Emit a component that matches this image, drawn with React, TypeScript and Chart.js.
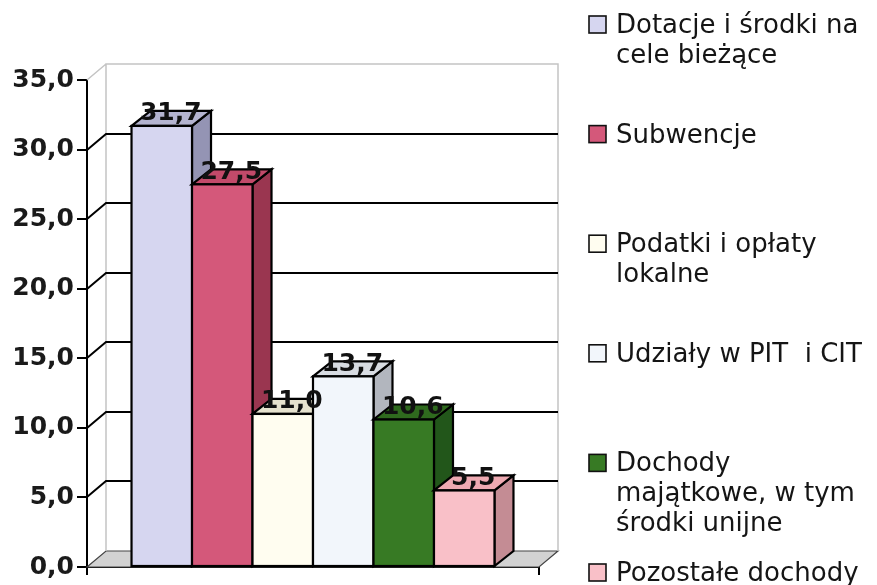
import React, { useEffect, useRef } from 'react';
import { Chart, registerables } from 'chart.js';

Chart.register(...registerables);

// ---- data ----
const categories: string[] = [''];
const seriesNames: string[] = [
  'Dotacje i środki na cele bieżące',
  'Subwencje',
  'Podatki i opłaty lokalne',
  'Udziały w PIT  i CIT',
  'Dochody majątkowe, w tym środki unijne',
  'Pozostałe dochody',
];
const legendLines: string[][] = [
  ['Dotacje i środki na', 'cele bieżące'],
  ['Subwencje'],
  ['Podatki i opłaty', 'lokalne'],
  ['Udziały w PIT  i CIT'],
  ['Dochody', 'majątkowe, w tym', 'środki unijne'],
  ['Pozostałe dochody'],
];
const seriesValues: number[] = [31.7, 27.5, 11.0, 13.7, 10.6, 5.5];
const yMin = 0;
const yMax = 35;
const yStep = 5;

// ---- styles ----
const frontColors = ['#d6d6f0', '#d4587a', '#fffdf0', '#f2f6fb', '#377a24', '#f9c0c8'];
const topColors = ['#b4b4d0', '#c24a6a', '#e6e2ce', '#d8dce2', '#2f6a1e', '#eeaab2'];
const sideColors = ['#9494b4', '#9a3650', '#c8c4b0', '#b2b6be', '#22561a', '#c48c94'];

const fmt = (v: number) => Number(v).toFixed(1).replace('.', ',');

const WDX = 19;
const WDY = -16;
const BDX = 19;
const BDY = -15;

const threeDPlugin = {
  id: 'threeD',
  beforeDatasetsDraw(chart: any) {
    const { ctx, chartArea: a } = chart;
    const y = chart.scales.y;
    const y0 = y.getPixelForValue(yMin);
    const yT = y.getPixelForValue(yMax);
    ctx.save();
    // floor
    ctx.beginPath();
    ctx.moveTo(a.left, y0);
    ctx.lineTo(a.right, y0);
    ctx.lineTo(a.right + WDX, y0 + WDY);
    ctx.lineTo(a.left + WDX, y0 + WDY);
    ctx.closePath();
    ctx.fillStyle = '#d2d2d2';
    ctx.fill();
    ctx.lineWidth = 1.2;
    ctx.strokeStyle = '#444';
    ctx.stroke();
    // wall edges
    ctx.strokeStyle = '#c4c4c4';
    ctx.lineWidth = 1.5;
    ctx.beginPath();
    ctx.moveTo(a.left + WDX, y0 + WDY);
    ctx.lineTo(a.left + WDX, yT + WDY);
    ctx.lineTo(a.right + WDX, yT + WDY);
    ctx.lineTo(a.right + WDX, y0 + WDY);
    ctx.moveTo(a.left, yT);
    ctx.lineTo(a.left + WDX, yT + WDY);
    ctx.stroke();
    // gridlines on back wall
    ctx.strokeStyle = '#000';
    ctx.lineWidth = 2;
    for (const t of y.ticks) {
      if (t.value <= yMin || t.value >= yMax) continue;
      const py = Math.round(y.getPixelForValue(t.value));
      ctx.beginPath();
      ctx.moveTo(a.left, py);
      ctx.lineTo(a.left + WDX, py + WDY);
      ctx.lineTo(a.right + WDX, py + WDY);
      ctx.stroke();
    }
    ctx.restore();
  },
  afterDatasetsDraw(chart: any) {
    const { ctx } = chart;
    ctx.save();
    ctx.lineWidth = 2.2;
    ctx.lineJoin = 'miter';
    ctx.strokeStyle = '#000';
    const bars: any[] = [];
    chart.data.datasets.forEach((ds: any, i: number) => {
      const meta = chart.getDatasetMeta(i);
      const el = meta.data[0];
      if (!el) return;
      const p = el.getProps(['x', 'y', 'base', 'width'], true);
      const l = p.x - p.width / 2;
      const r = p.x + p.width / 2;
      const t = p.y;
      const b = p.base;
      bars.push({ p, v: ds.data[0] });
      // side
      ctx.beginPath();
      ctx.moveTo(r, t);
      ctx.lineTo(r + BDX, t + BDY);
      ctx.lineTo(r + BDX, b + BDY);
      ctx.lineTo(r, b);
      ctx.closePath();
      ctx.fillStyle = sideColors[i];
      ctx.fill();
      ctx.stroke();
      // top
      ctx.beginPath();
      ctx.moveTo(l, t);
      ctx.lineTo(l + BDX, t + BDY);
      ctx.lineTo(r + BDX, t + BDY);
      ctx.lineTo(r, t);
      ctx.closePath();
      ctx.fillStyle = topColors[i];
      ctx.fill();
      ctx.stroke();
      // front
      ctx.fillStyle = frontColors[i];
      ctx.fillRect(l, t, r - l, b - t);
      ctx.strokeRect(l, t, r - l, b - t);
    });
    // value labels
    ctx.fillStyle = '#111';
    ctx.font = 'bold 25px "DejaVu Sans"';
    ctx.textAlign = 'center';
    ctx.textBaseline = 'alphabetic';
    for (const { p, v } of bars) {
      ctx.fillText(fmt(v), p.x + 9, p.y - 5.5);
    }
    ctx.restore();
  },
  afterDraw(chart: any) {
    const { ctx } = chart;
    ctx.save();
    ctx.font = '26px "DejaVu Sans"';
    ctx.textAlign = 'left';
    ctx.textBaseline = 'alphabetic';
    const slotTop = 15;
    const slotStep = 109.6;
    chart.data.datasets.forEach((ds: any, i: number) => {
      const base = slotTop + i * slotStep + 18;
      ctx.fillStyle = ds.backgroundColor;
      ctx.fillRect(589, base - 17, 17, 17);
      ctx.strokeStyle = '#111';
      ctx.lineWidth = 1.6;
      ctx.strokeRect(589, base - 17, 17, 17);
      ctx.fillStyle = '#151515';
      legendLines[i].forEach((line, k) => {
        ctx.fillText(line, 616, base + k * 30);
      });
    });
    ctx.restore();
  },
};

export default function App() {
  const ref = useRef<HTMLCanvasElement>(null);
  useEffect(() => {
    if (!ref.current) return;
    const chart = new Chart(ref.current, {
      type: 'bar',
      data: {
        labels: categories,
        datasets: seriesNames.map((name, i) => ({
          label: name,
          data: [seriesValues[i]],
          backgroundColor: frontColors[i],
          borderColor: '#000',
          borderWidth: 2,
          borderSkipped: false,
          categoryPercentage: 0.803,
          barPercentage: 1,
        })),
      },
      options: {
        animation: false,
        responsive: false,
        devicePixelRatio: 1,
        layout: { padding: { left: 0, top: 80, right: 338, bottom: 0 } },
        plugins: {
          legend: { display: false },
          tooltip: { enabled: false },
        },
        scales: {
          x: {
            offset: true,
            ticks: { display: false },
            grid: {
              display: true,
              offset: true,
              drawOnChartArea: false,
              drawTicks: true,
              tickLength: 8,
              color: '#000',
              lineWidth: 2,
            },
            border: { display: true, color: '#000', width: 2 },
            afterFit(s: any) {
              s.height = 16;
            },
          },
          y: {
            min: yMin,
            max: yMax,
            ticks: {
              stepSize: yStep,
              callback: (v: any) => fmt(Number(v)),
              font: { family: 'DejaVu Sans', weight: 'bold', size: 25 },
              color: '#1a1a1a',
              padding: 3,
            },
            grid: {
              drawOnChartArea: false,
              drawTicks: true,
              tickLength: 10,
              color: '#000',
              lineWidth: 2,
            },
            border: { display: true, color: '#000', width: 2 },
            afterFit(s: any) {
              s.width = 87;
            },
          },
        },
      },
      plugins: [threeDPlugin],
    } as any);
    return () => chart.destroy();
  }, []);
  return (
    <div style={{ position: 'absolute', left: 0, top: 0, width: 877, height: 585, background: '#fff' }}>
      <canvas ref={ref} width={877} height={585} style={{ display: 'block' }} />
    </div>
  );
}
